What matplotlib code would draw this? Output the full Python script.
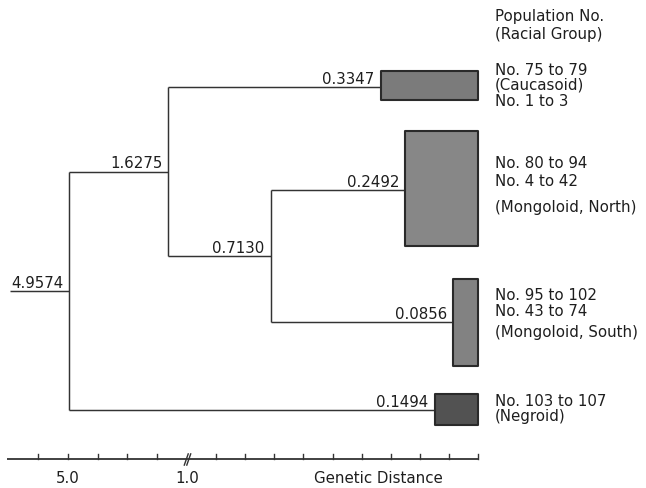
import numpy as np
import matplotlib
matplotlib.use("Agg")
import matplotlib.pyplot as plt
from matplotlib.path import Path

# ---------------- data ----------------
clusters = ["Caucasoid", "Mongoloid, North", "Mongoloid, South", "Negroid"]
within_dist = [0.3347, 0.2492, 0.0856, 0.1494]      # within-cluster distance (box width)
node_mongoloid = 0.7130                              # North + South
node_cm = 1.6275                                     # Caucasoid + Mongoloid
node_root = 4.9574                                   # all + Negroid
cluster_text = [
    ["No. 75 to 79", "(Caucasoid)", "No. 1 to 3"],
    ["No. 80 to 94", "No. 4 to 42", "(Mongoloid, North)"],
    ["No. 95 to 102", "No. 43 to 74", "(Mongoloid, South)"],
    ["No. 103 to 107", "(Negroid)"],
]
header_text = ["Population No.", "(Racial Group)"]
ticks_far = [6.0, 5.0, 4.0, 3.0, 2.0]
ticks_near = [0.9, 0.8, 0.7, 0.6, 0.5, 0.4, 0.3, 0.2, 0.1, 0.0]
tick_labels = {5.0: "5.0", 1.0: "1.0"}
axis_title = "Genetic Distance"

# ---------------- layout ----------------
W, H = 646, 489
C = 0.1024           # compression of the scale beyond the break at 1.0
X0, S = 478.0, 291.0  # pixel of distance 0, pixels per unit (f-space)
leaf_y = [88, 191, 323, 411]
box_y = [(72, 101), (132, 247), (280, 367), (395, 426)]
text_base = [[75, 90, 106], [168, 186, 212], [300, 316.5, 337], [406, 420.5]]
header_base = [21, 38.5]
text_x_px = 495
root_start = 6.95
axis_start = 7.04
axis_y = 459.5
label_base = 483

line_c = "#333333"
text_c = "#1e1e1e"
box_fc = ["#7b7b7b", "#878787", "#828282", "#525252"]
box_ec = "#2a2a2a"
fs = 10.8

def fwd(d):
    d = np.asarray(d, dtype=float)
    return np.where(d <= 1, d, 1 + (d - 1) * C)

def inv(f):
    f = np.asarray(f, dtype=float)
    return np.where(f <= 1, f, 1 + (f - 1) / C)

def px_to_d(px):
    return float(inv((X0 - px) / S))

fig = plt.figure(figsize=(W / 100, H / 100), dpi=100)
ax = fig.add_axes([0, 0, 1, 1])
ax.set_xscale("function", functions=(fwd, inv))
ax.set_xlim(px_to_d(0), px_to_d(W))
ax.set_ylim(H, 0)
ax.axis("off")

lw = 1.05
def hline(x1, x2, y):
    ax.plot([x1, x2], [y, y], color=line_c, lw=lw, solid_capstyle="butt")
def vline(x, y1, y2):
    ax.plot([x, x], [y1, y2], color=line_c, lw=lw, solid_capstyle="butt")

def num_label(x, y, val):
    ax.annotate(f"{val:.4f}", xy=(x, y), xytext=(-6, 4), textcoords="offset pixels",
                ha="right", va="baseline", fontsize=fs, color=text_c)

# node y positions (midpoints of children)
y_mong = (leaf_y[1] + leaf_y[2]) / 2
y_cm = (leaf_y[0] + y_mong) / 2
y_root = (y_cm + leaf_y[3]) / 2

# leaf branches
parents = [node_cm, node_mongoloid, node_mongoloid, node_root]
for i in range(4):
    hline(within_dist[i], parents[i], leaf_y[i])
    num_label(within_dist[i], leaf_y[i], within_dist[i])
    y0, y1 = box_y[i]
    ax.fill_between([within_dist[i], 0.0], [y0, y0], [y1, y1],
                    facecolor=box_fc[i], edgecolor=box_ec, linewidth=1.5, zorder=3)

# internal nodes
vline(node_mongoloid, leaf_y[1], leaf_y[2])
hline(node_mongoloid, node_cm, y_mong)
num_label(node_mongoloid, y_mong, node_mongoloid)

vline(node_cm, leaf_y[0], y_mong)
hline(node_cm, node_root, y_cm)
num_label(node_cm, y_cm, node_cm)

vline(node_root, y_cm, leaf_y[3])
hline(node_root, root_start, y_root)
num_label(node_root, y_root, node_root)

# right-hand texts
tx = px_to_d(text_x_px)
for lines, bases in zip(cluster_text, text_base):
    for t, b in zip(lines, bases):
        ax.text(tx, b, t, ha="left", va="baseline", fontsize=fs, color=text_c)
for t, b in zip(header_text, header_base):
    ax.text(tx, b, t, ha="left", va="baseline", fontsize=fs, color=text_c)

# distance axis
ax.plot([axis_start, 0.0], [axis_y, axis_y], color=line_c, lw=1.3, solid_capstyle="butt")
for t in ticks_far + ticks_near:
    ax.plot([t, t], [axis_y, axis_y - 5], color=line_c, lw=1.0)
brk = Path([(-2.2, -4), (0.6, 4), (-0.6, -4), (2.2, 4)],
           [Path.MOVETO, Path.LINETO, Path.MOVETO, Path.LINETO])
ax.plot([1.0], [axis_y], marker=brk, markersize=9, mfc="none", mec=line_c, mew=1.0)
for v, s in tick_labels.items():
    ax.text(v, label_base, s, ha="center", va="baseline", fontsize=fs, color=text_c)
ax.text(0.344, label_base, axis_title, ha="center", va="baseline", fontsize=fs, color=text_c)

fig.savefig("out.png", dpi=100, facecolor="white")
